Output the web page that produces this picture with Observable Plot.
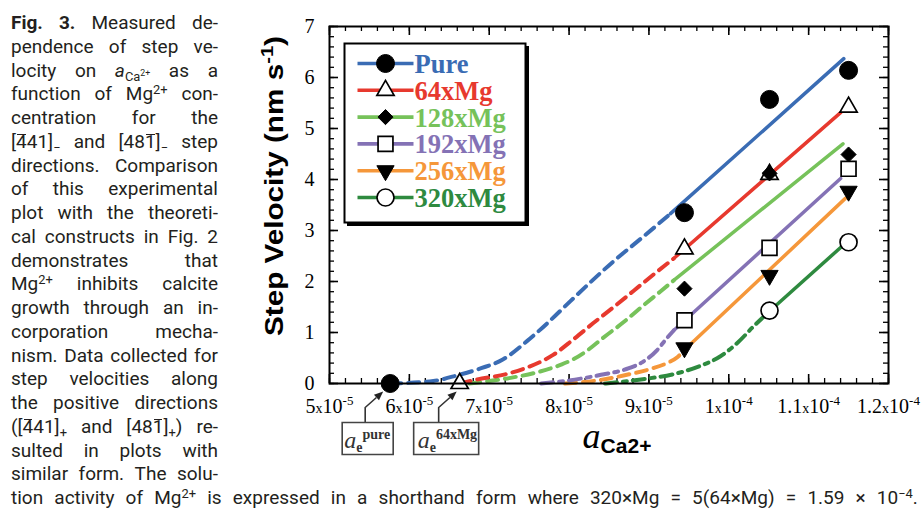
<!DOCTYPE html>
<html><head><meta charset="utf-8">
<script src="https://cdn.jsdelivr.net/npm/d3@7"></script>
<script src="https://cdn.jsdelivr.net/npm/@observablehq/plot@0.6"></script>
<style>
body{margin:0;background:#fff;}
#page{position:relative;width:924px;height:514px;overflow:hidden;background:#fff;}
.cap{position:absolute;left:11px;font-family:Roboto,sans-serif;font-size:19px;color:#231f20;}
.ln{display:flex;justify-content:space-between;height:23.75px;line-height:23.75px;white-space:nowrap;}
.ln sup,.ln sub{font-size:0.68em;line-height:0;position:relative;vertical-align:baseline;}
.ln sup{top:-0.5em}
.ln sub{top:0.32em}
.ob{position:relative;}
.ob::after{content:"";position:absolute;left:1px;right:1px;top:0.2em;border-top:1.3px solid #231f20;}
#chart{position:absolute;left:230px;top:0;}
</style></head>
<body><div id="page">
<div class="cap" id="col" style="top:11px;width:207px"></div>
<div class="cap" id="last" style="top:486px;width:907px"></div>
<div id="chart"></div>
</div>
<script>
// ---------- data ----------
const xMajor = [5e-5, 6e-5, 7e-5, 8e-5, 9e-5, 1e-4, 1.1e-4, 1.2e-4];
const xTickLabels = ["5x10^-5", "6x10^-5", "7x10^-5", "8x10^-5", "9x10^-5", "1x10^-4", "1.1x10^-4", "1.2x10^-4"];
const yMajor = [0, 1, 2, 3, 4, 5, 6, 7];
const yTickLabels = ["0", "1", "2", "3", "4", "5", "6", "7"];
const seriesNames = ["Pure", "64xMg", "128xMg", "192xMg", "256xMg", "320xMg"];
const seriesColors = ["#3a6cb4", "#e7392e", "#76c25a", "#8472b5", "#f5973a", "#2e8a3f"];

// measured step velocities (nm/s) at three Ca2+ activities
const measuredActivity = [9.445e-5, 1.051e-4, 1.150e-4];
const vPure = [3.35, 5.57, 6.14];
const v64 = [2.64, 4.10, 5.42];
const v128 = [1.86, 4.12, 4.49];
const v192 = [1.24, 2.66, 4.21];
const v256 = [0.70, 2.12, 3.77];
const v320 = [null, 1.43, 2.77];

// equilibrium activities
const aeActivity = [5.76e-5, 6.63e-5];
const aeLabels = ["pure", "64xMg"];

// model curves: non-linear (dashed) part and linear (solid) part
const mPureDashed = [[5.76e-5,0],[6.3e-5,0.05],[6.6e-5,0.16],[6.9e-5,0.3],[7.17e-5,0.47],[7.48e-5,0.84],[7.74e-5,1.2],[8.02e-5,1.62],[8.56e-5,2.4],[8.93e-5,2.88],[9.27e-5,3.33]];
const mPureSolid = [[9.27e-5,3.33],[1.144e-4,6.37]];
const m64Dashed = [[6.63e-5,0],[6.85e-5,0.08],[7.2e-5,0.18],[7.5e-5,0.33],[7.8e-5,0.56],[8.05e-5,0.86],[8.3e-5,1.18],[8.56e-5,1.5],[8.81e-5,1.82],[9.06e-5,2.14],[9.31e-5,2.45]];
const m64Solid = [[9.31e-5,2.45],[1.14e-4,5.31]];
const m128Dashed = [[6.75e-5,0],[7.0e-5,0.05],[7.3e-5,0.12],[7.6e-5,0.22],[7.9e-5,0.37],[8.07e-5,0.49],[8.23e-5,0.65],[8.43e-5,0.9],[8.68e-5,1.2],[8.93e-5,1.53],[9.14e-5,1.8],[9.31e-5,2.02]];
const m128Solid = [[9.31e-5,2.02],[1.143e-4,4.70]];
const m192Dashed = [[7.65e-5,0],[8.0e-5,0.06],[8.4e-5,0.17],[8.75e-5,0.3],[8.92e-5,0.42],[9.1e-5,0.65],[9.22e-5,0.88],[9.31e-5,1.04]];
const m192Solid = [[9.31e-5,1.04],[1.14e-4,4.02]];
const m256Dashed = [[7.95e-5,0],[8.35e-5,0.06],[8.75e-5,0.18],[9.03e-5,0.29],[9.24e-5,0.41],[9.36e-5,0.52],[9.44e-5,0.65]];
const m256Solid = [[9.44e-5,0.65],[1.146e-4,3.63]];
const m320Dashed = [[8.45e-5,0],[8.9e-5,0.08],[9.3e-5,0.18],[9.65e-5,0.35],[9.86e-5,0.5],[1.011e-4,0.8],[1.031e-4,1.12],[1.052e-4,1.43]];
const m320Solid = [[1.052e-4,1.43],[1.146e-4,2.75]];

// ---------- caption ----------
const OB = s => `<span class="ob">${s}</span>`;
const captionLines = [
  ["<b>Fig.</b>", "<b>3.</b>", "Measured", "de-"],
  ["pendence", "of", "step", "ve-"],
  ["locity", "on", "<i>a</i><sub>Ca<sup>2+</sup></sub>", "as", "a"],
  ["function", "of", "Mg<sup>2+</sup>", "con-"],
  ["centration", "for", "the"],
  [`[${OB("4")}41]<sub>−</sub>`, "and", `[48${OB("1")}]<sub>−</sub>`, "step"],
  ["directions.", "Comparison"],
  ["of", "this", "experimental"],
  ["plot", "with", "the", "theoreti-"],
  ["cal", "constructs", "in", "Fig.", "2"],
  ["demonstrates", "that"],
  ["Mg<sup>2+</sup>", "inhibits", "calcite"],
  ["growth", "through", "an", "in-"],
  ["corporation", "mecha-"],
  ["nism.", "Data", "collected", "for"],
  ["step", "velocities", "along"],
  ["the", "positive", "directions"],
  [`([${OB("4")}41]<sub>+</sub>`, "and", `[48${OB("1")}]<sub>+</sub>)`, "re-"],
  ["sulted", "in", "plots", "with"],
  ["similar", "form.", "The", "solu-"]
];
const lastLine = ["tion", "activity", "of", "Mg<sup>2+</sup>", "is", "expressed", "in", "a", "shorthand", "form", "where", "320×Mg", "=", "5(64×Mg)", "=", "1.59", "×", "10<sup>−4</sup>."];
function lineHTML(words){ return `<div class="ln">${words.map(w=>`<span>${w}</span>`).join("")}</div>`; }
document.getElementById("col").innerHTML = captionLines.map(lineHTML).join("");
document.getElementById("last").innerHTML = lineHTML(lastLine);

// ---------- chart ----------
const W = 694, H = 470, mL = 99, mR = 36, mT = 26, mB = 87;
const iw = W - mL - mR, ih = H - mT - mB;
const SERIF = "Liberation Serif, Times New Roman, serif";
const SANS = "Liberation Sans, Arial, sans-serif";

const triDown = {draw(ctx, size){ const y = Math.sqrt(size / (3 * Math.sqrt(3))); ctx.moveTo(0, 2*y); ctx.lineTo(-Math.sqrt(3)*y, -y); ctx.lineTo(Math.sqrt(3)*y, -y); ctx.closePath(); }};
const legendLine = {draw(ctx){ ctx.moveTo(-28, 0); ctx.lineTo(28, 0); }};
const markerStyles = [
  {symbol: "circle", r: 9, fill: "black", stroke: "black", strokeWidth: 1},
  {symbol: "triangle", r: 6.4, fill: "white", stroke: "black", strokeWidth: 1.7},
  {symbol: "diamond2", r: 6.8, fill: "black", stroke: "black", strokeWidth: 1},
  {symbol: "square", r: 8.4, fill: "white", stroke: "black", strokeWidth: 1.7},
  {symbol: triDown, r: 6.4, fill: "black", stroke: "black", strokeWidth: 1},
  {symbol: "circle", r: 8.5, fill: "white", stroke: "black", strokeWidth: 1.7}
];
const dashes = ["11,7", "11,7", "11,7", "12,6,4,6", "11,7", "12,6,4,6"];
const values = [vPure, v64, v128, v192, v256, v320];
const dashedCurves = [mPureDashed, m64Dashed, m128Dashed, m192Dashed, m256Dashed, m320Dashed];
const solidLines = [mPureSolid, m64Solid, m128Solid, m192Solid, m256Solid, m320Solid];

// callout (annotation) symbols, pixel offsets relative to the marked point
function callout(vx, tipX, tipY){
  const sx = vx, sy = 24, dxv = tipX - sx, dyv = tipY - sy, L = Math.hypot(dxv, dyv);
  const ux = dxv / L, uy = dyv / L, bx = tipX - 9*ux, by = tipY - 9*uy, px = -uy, py = ux;
  return {
    line: {draw(ctx){ ctx.moveTo(vx, 39); ctx.lineTo(sx, sy); ctx.lineTo(bx, by); }},
    head: {draw(ctx){ ctx.moveTo(tipX, tipY); ctx.lineTo(bx + 3.8*px, by + 3.8*py); ctx.lineTo(bx - 3.8*px, by - 3.8*py); ctx.closePath(); }}
  };
}
const boxSym = (l, w) => ({draw(ctx){ ctx.rect(l, 39, w, 32); }});
const callouts = [callout(-25, -7, 8), callout(-21, -3, 8)];
const boxes = [boxSym(-48, 51), boxSym(-46, 65)];
const boxTextDx = [-46, -42];

const marks = [];
// ticks (inward, all four sides)
const xMinor = d3.ticks(5e-5, 1.2e-4, 35);
const yMinor = d3.ticks(0, 7, 35);
marks.push(
  Plot.ruleX(xMinor, {x: d => d, insetTop: ih - 5, strokeWidth: 1.3}),
  Plot.ruleX(xMinor, {x: d => d, insetBottom: ih - 5, strokeWidth: 1.3}),
  Plot.ruleX(xMajor, {x: d => d, insetTop: ih - 9, strokeWidth: 1.6}),
  Plot.ruleX(xMajor, {x: d => d, insetBottom: ih - 9, strokeWidth: 1.6}),
  Plot.ruleY(yMinor, {y: d => d, insetRight: iw - 5, strokeWidth: 1.3}),
  Plot.ruleY(yMinor, {y: d => d, insetLeft: iw - 5, strokeWidth: 1.3}),
  Plot.ruleY(yMajor, {y: d => d, insetRight: iw - 9, strokeWidth: 1.6}),
  Plot.ruleY(yMajor, {y: d => d, insetLeft: iw - 9, strokeWidth: 1.6})
);
// model curves
for (let i = seriesNames.length - 1; i >= 0; i--) {
  marks.push(Plot.line(dashedCurves[i], {x: d => d[0], y: d => d[1], stroke: seriesColors[i], strokeWidth: 4, strokeDasharray: dashes[i], curve: "monotone-x"}));
  marks.push(Plot.line(solidLines[i], {x: d => d[0], y: d => d[1], stroke: seriesColors[i], strokeWidth: 3.5}));
}
// callouts for equilibrium activities
aeActivity.forEach((a, k) => {
  marks.push(
    Plot.dot([a], {x: d => d, y: () => 0, symbol: callouts[k].line, stroke: "#333", strokeWidth: 1.6, fill: "none"}),
    Plot.dot([a], {x: d => d, y: () => 0, symbol: callouts[k].head, fill: "#222", stroke: "none"}),
    Plot.dot([a], {x: d => d, y: () => 0, symbol: boxes[k], fill: "white", stroke: "#444", strokeWidth: 1.6}),
    Plot.text(["ae:" + aeLabels[k]], {x: () => a, y: () => 0, text: d => d, dx: boxTextDx[k], dy: 64, textAnchor: "start", lineAnchor: "bottom", fontFamily: SERIF, fontSize: 24, fill: "#333"})
  );
});
// equilibrium points
marks.push(Plot.dot([aeActivity[0]], {x: d => d, y: () => 0, ...markerStyles[0]}));
marks.push(Plot.dot([aeActivity[1]], {x: d => d, y: () => 0, ...markerStyles[1]}));
// measured points
for (let i = 0; i < seriesNames.length; i++) {
  const pts = measuredActivity.map((a, j) => ({a, v: values[i][j]})).filter(d => d.v != null);
  marks.push(Plot.dot(pts, {x: "a", y: "v", ...markerStyles[i]}));
}
// legend box
marks.push(
  Plot.frame({fill: "black", stroke: "black", insetLeft: 18, insetTop: 20, insetRight: 360, insetBottom: 158}),
  Plot.frame({fill: "white", stroke: "black", strokeWidth: 2, insetLeft: 15, insetTop: 17, insetRight: 363, insetBottom: 161})
);
seriesNames.forEach((name, i) => {
  const dy = 37 + 26.8 * i;
  marks.push(
    Plot.dot([name], {frameAnchor: "top-left", dx: 56, dy, symbol: legendLine, stroke: seriesColors[i], strokeWidth: 3.6, fill: "none"}),
    Plot.dot([name], {frameAnchor: "top-left", dx: 56, dy, ...markerStyles[i]}),
    Plot.text([name], {frameAnchor: "top-left", lineAnchor: "middle", text: d => d, dx: 85, dy: dy + 1, textAnchor: "start", fill: seriesColors[i], fontFamily: SERIF, fontWeight: "bold", fontSize: 26.5})
  );
});
// frame and axes
marks.push(
  Plot.frame({stroke: "black", strokeWidth: 2}),
  Plot.axisX({ticks: xMajor, tickFormat: (d, i) => xTickLabels[i], tickSize: 0, tickPadding: 15, label: null, fontSize: 20, fontFamily: SERIF}),
  Plot.axisY({ticks: yMajor, tickFormat: (d, i) => yTickLabels[i], tickSize: 0, tickPadding: 15, label: null, fontSize: 20, fontFamily: SERIF}),
  Plot.text(["Step Velocity (nm s-1)"], {frameAnchor: "left", text: d => d, rotate: -90, dx: -47, dy: -19, textAnchor: "middle", lineAnchor: "bottom", fontFamily: SANS, fontWeight: "bold", fontSize: 25}),
  Plot.text(["aCa2+"], {frameAnchor: "bottom", text: d => d, dx: 8, dy: 64, textAnchor: "middle", lineAnchor: "bottom", fontFamily: SERIF, fontSize: 36})
);

const chart = Plot.plot({
  width: W, height: H, marginLeft: mL, marginRight: mR, marginTop: mT, marginBottom: mB,
  x: {domain: [5e-5, 1.2e-4]},
  y: {domain: [0, 7]},
  style: {fontFamily: SERIF, fontSize: "20px", color: "#000", background: "transparent", overflow: "visible"},
  marks
});
document.getElementById("chart").appendChild(chart);

// ---------- rich text (sub/superscripts) ----------
function rich(el, parts){
  el.textContent = "";
  let cur = 0;
  for (const p of parts) {
    const t = document.createElementNS("http://www.w3.org/2000/svg", "tspan");
    t.textContent = p.t;
    const s = p.shift || 0;
    if (s !== cur) { t.setAttribute("dy", s - cur); cur = s; }
    if (p.size) t.setAttribute("font-size", p.size);
    if (p.style) t.setAttribute("font-style", p.style);
    if (p.weight) t.setAttribute("font-weight", p.weight);
    if (p.family) t.setAttribute("font-family", p.family);
    el.appendChild(t);
  }
}
chart.querySelectorAll("text").forEach(el => {
  const s = el.textContent;
  if (s.includes("x10^")) {
    const [m, e] = s.split("x10^");
    rich(el, [{t: m}, {t: "x", size: 14}, {t: "10"}, {t: e, size: 13, shift: -8}]);
  } else if (s === "Step Velocity (nm s-1)") {
    rich(el, [{t: "Step Velocity (nm s"}, {t: "-1", size: 17, shift: -10}, {t: ")", shift: 0}]);
    el.setAttribute("textLength", 300);
    el.setAttribute("lengthAdjust", "spacingAndGlyphs");
  } else if (s === "aCa2+") {
    rich(el, [{t: "a", style: "italic"}, {t: "Ca2+", family: SANS, weight: "bold", size: 21, shift: 5}]);
  } else if (s.startsWith("ae:")) {
    rich(el, [{t: "a", style: "italic"}, {t: "e", weight: "bold", size: 14, shift: 4}, {t: s.slice(3), weight: "bold", size: 14, shift: -9}]);
  }
});
</script>
</body></html>
